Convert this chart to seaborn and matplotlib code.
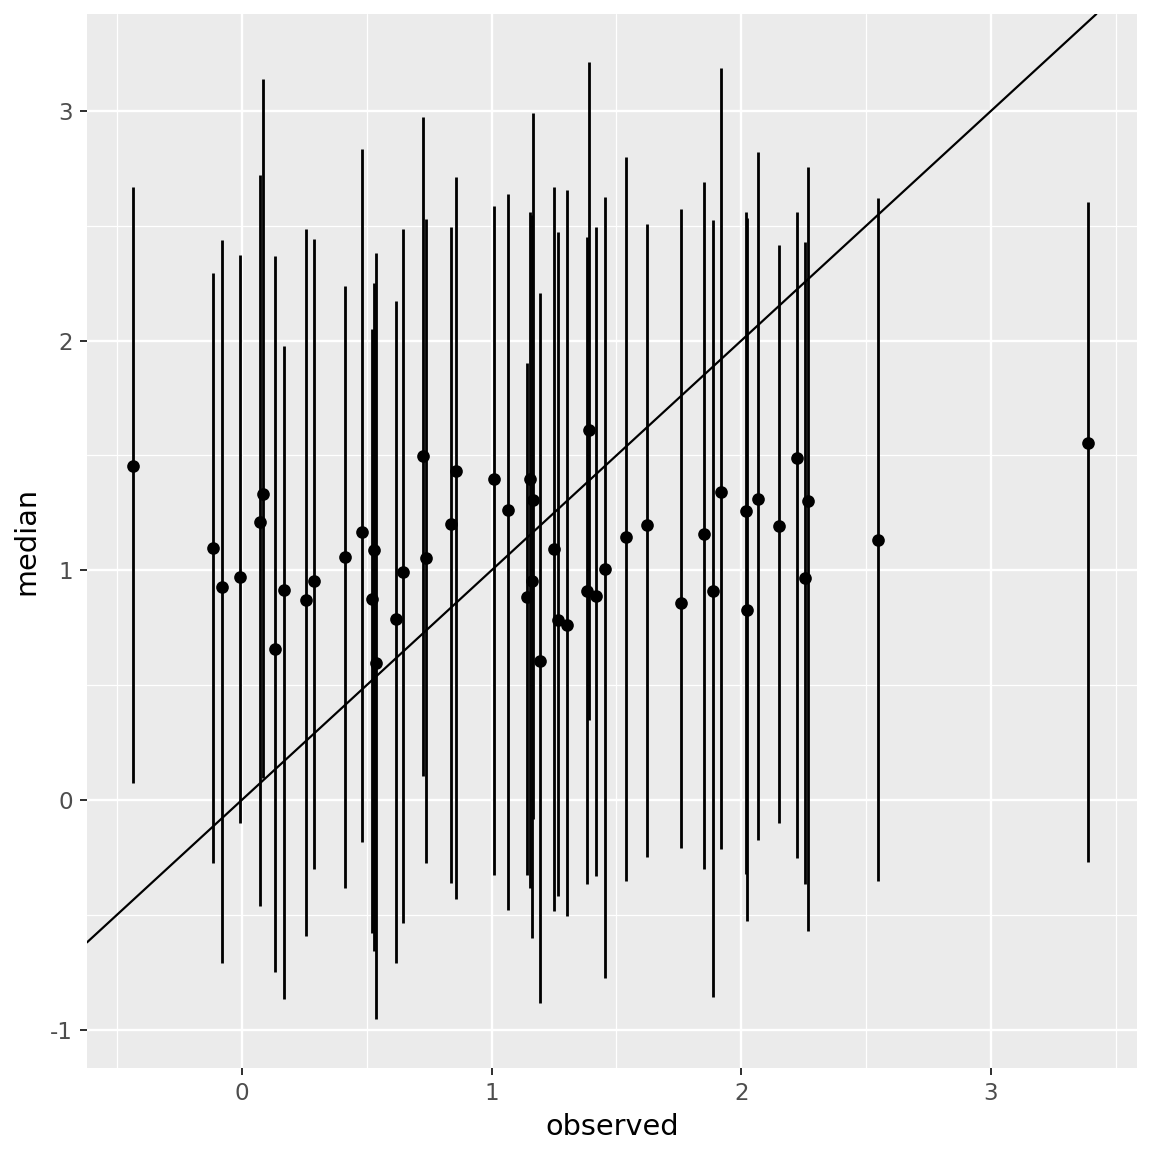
import numpy as np
import pandas as pd
import seaborn as sns
import matplotlib.pyplot as plt
from matplotlib.ticker import MultipleLocator

# ── DATA ───────────────────────────────────────────────
observed = [-0.437, -0.117, -0.081, -0.007, 0.072, 0.084, 0.132, 0.169, 0.259, 0.288,
            0.415, 0.481, 0.521, 0.531, 0.538, 0.616, 0.645, 0.726, 0.736, 0.836,
            0.857, 1.011, 1.068, 1.144, 1.156, 1.162, 1.168, 1.196, 1.250, 1.267,
            1.303, 1.381, 1.390, 1.417, 1.454, 1.538, 1.622, 1.758, 1.852, 1.888,
            1.919, 2.019, 2.025, 2.068, 2.151, 2.224, 2.255, 2.266, 2.547, 3.388]

median = [1.456, 1.097, 0.927, 0.971, 1.210, 1.332, 0.657, 0.914, 0.871, 0.954,
          1.058, 1.167, 0.875, 1.089, 0.597, 0.788, 0.993, 1.498, 1.054, 1.202,
          1.432, 1.398, 1.263, 0.884, 1.398, 0.954, 1.306, 0.605, 1.093, 0.784,
          0.762, 0.910, 1.611, 0.888, 1.006, 1.145, 1.197, 0.858, 1.158, 0.910,
          1.341, 1.258, 0.827, 1.311, 1.193, 1.489, 0.967, 1.302, 1.132, 1.554]

upper = [2.670, 2.295, 2.438, 2.373, 2.721, 3.139, 2.369, 1.977, 2.486, 2.443,
         2.238, 2.834, 2.051, 2.251, 2.382, 2.173, 2.486, 2.974, 2.530, 2.495,
         2.713, 2.586, 2.639, 1.903, 2.560, 2.547, 2.991, 2.208, 2.669, 2.473,
         2.656, 2.451, 3.213, 2.495, 2.625, 2.800, 2.508, 2.573, 2.691, 2.525,
         3.187, 2.560, 2.534, 2.821, 2.416, 2.560, 2.430, 2.756, 2.621, 2.604]

lower = [0.074, -0.274, -0.710, -0.100, -0.462, 0.096, -0.749, -0.866, -0.592, -0.300,
         -0.383, -0.183, -0.579, -0.657, -0.954, -0.710, -0.536, 0.104, -0.274, -0.361,
         -0.431, -0.327, -0.479, -0.327, -0.383, -0.601, -0.083, -0.884, -0.483, -0.418,
         -0.505, -0.366, 0.348, -0.331, -0.775, -0.353, -0.248, -0.209, -0.300, -0.858,
         -0.213, -0.322, -0.527, -0.174, -0.100, -0.253, -0.366, -0.570, -0.353, -0.270]

df = pd.DataFrame({"observed": observed, "median": median,
                   "lower": lower, "upper": upper})

# ── STYLE (ggplot2 grey look) ──────────────────────────
sns.set_theme(style="darkgrid", rc={
    "axes.facecolor": "#EBEBEB",
    "grid.color": "white",
    "axes.edgecolor": "white",
    "axes.unicode_minus": False,
})
plt.rcParams["font.family"] = ["DejaVu Sans"]

fig = plt.figure(figsize=(8, 8), dpi=144)
ax = fig.add_axes([0.0755, 0.0729, 0.9115, 0.9149])

ax.set_xlim(-0.62, 3.585)
ax.set_ylim(-1.167, 3.422)

ax.xaxis.set_major_locator(MultipleLocator(1))
ax.yaxis.set_major_locator(MultipleLocator(1))
ax.xaxis.set_minor_locator(MultipleLocator(0.5))
ax.yaxis.set_minor_locator(MultipleLocator(0.5))
ax.grid(which="major", color="white", linewidth=1.2)
ax.grid(which="minor", color="white", linewidth=0.6)
for s in ax.spines.values():
    s.set_visible(False)

# identity line
ax.axline((0, 0), slope=1, color="black", linewidth=1.1, zorder=2)

# error bars
ax.vlines(df["observed"], df["lower"], df["upper"], color="black",
          linewidth=1.4, zorder=3)

# points
sns.scatterplot(data=df, x="observed", y="median", ax=ax, color="black",
                s=40, edgecolor="black", linewidth=0, zorder=4)

ax.tick_params(axis="both", which="major", length=3.5, width=1.0, color="#333333",
               labelsize=11.5, labelcolor="#4D4D4D", pad=3.5, bottom=True, left=True)
ax.tick_params(which="minor", length=0)
ax.set_xlabel("observed", fontsize=14.4, color="black", labelpad=4)
ax.set_ylabel("median", fontsize=14.4, color="black", labelpad=5)

plt.savefig("out.png", dpi=144)
